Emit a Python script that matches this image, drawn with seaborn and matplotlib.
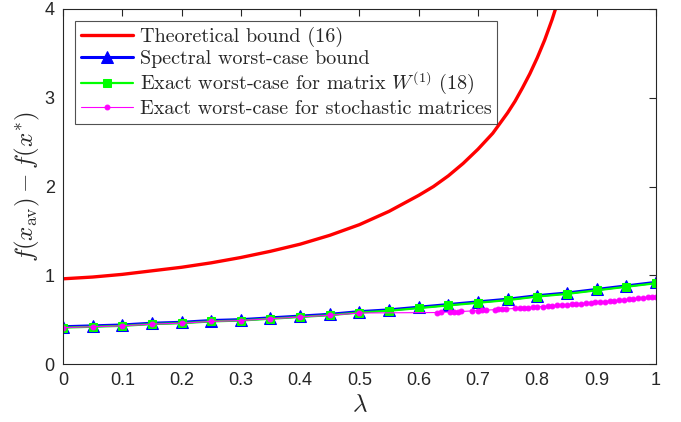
import numpy as np
import pandas as pd
import matplotlib
matplotlib.use("Agg")
import matplotlib.pyplot as plt
import seaborn as sns

# %% Data
lam_bound = [0.0, 0.05, 0.1, 0.15, 0.2, 0.25, 0.3, 0.35, 0.4, 0.45, 0.5,
             0.55, 0.6, 0.625, 0.65, 0.675, 0.7, 0.725, 0.75, 0.7625, 0.775,
             0.7875, 0.8, 0.8125, 0.825, 0.85]
theory_bound = [0.96, 0.98, 1.01, 1.05, 1.09, 1.14, 1.20, 1.27, 1.35, 1.45, 1.57,
                1.72, 1.90, 2.00, 2.12, 2.26, 2.42, 2.60, 2.83, 2.96, 3.11,
                3.27, 3.45, 3.65, 3.88, 4.40]

lam_grid = [0.0, 0.05, 0.1, 0.15, 0.2, 0.25, 0.3, 0.35, 0.4, 0.45, 0.5,
            0.55, 0.6, 0.65, 0.7, 0.75, 0.8, 0.85, 0.9, 0.95, 1.0]
spectral = [0.42, 0.43, 0.44, 0.46, 0.47, 0.49, 0.50, 0.52, 0.54, 0.56, 0.59,
            0.61, 0.64, 0.67, 0.70, 0.73, 0.77, 0.80, 0.84, 0.88, 0.92]
exact_w1 = [0.41, 0.42, 0.43, 0.45, 0.46, 0.48, 0.49, 0.51, 0.53, 0.55, 0.58,
            0.60, 0.63, 0.66, 0.69, 0.72, 0.76, 0.79, 0.83, 0.87, 0.91]

lam_stoch = [0.0, 0.05, 0.1, 0.15, 0.2, 0.25, 0.3, 0.35, 0.4, 0.45, 0.5,
             0.631, 0.638, 0.652, 0.659, 0.666, 0.672, 0.690, 0.700, 0.706,
             0.713, 0.728, 0.734, 0.741, 0.748, 0.762, 0.771, 0.778, 0.785,
             0.793, 0.800, 0.810, 0.818, 0.825, 0.834, 0.842, 0.850, 0.858,
             0.866, 0.874, 0.882, 0.890, 0.898, 0.906, 0.914, 0.922, 0.930,
             0.938, 0.946, 0.954, 0.962, 0.970, 0.978, 0.986, 0.994, 1.000]
exact_stoch = [0.41, 0.42, 0.43, 0.45, 0.46, 0.48, 0.49, 0.51, 0.53, 0.55, 0.575,
               0.580, 0.582, 0.586, 0.588, 0.590, 0.592, 0.598, 0.602, 0.604,
               0.607, 0.612, 0.615, 0.617, 0.620, 0.626, 0.630, 0.633, 0.636,
               0.640, 0.643, 0.648, 0.652, 0.655, 0.660, 0.664, 0.668, 0.672,
               0.677, 0.681, 0.685, 0.690, 0.695, 0.699, 0.704, 0.709, 0.714,
               0.719, 0.724, 0.729, 0.734, 0.739, 0.745, 0.750, 0.756, 0.760]

x_ticks = [0, 0.1, 0.2, 0.3, 0.4, 0.5, 0.6, 0.7, 0.8, 0.9, 1]
x_tick_labels = ["0", "0.1", "0.2", "0.3", "0.4", "0.5", "0.6", "0.7", "0.8", "0.9", "1"]
y_ticks = [0, 1, 2, 3, 4]

labels = ["Theoretical bound (16)",
          "Spectral worst-case bound",
          r"Exact worst-case for matrix $W^{(1)}$ (18)",
          "Exact worst-case for stochastic matrices"]

# %% Style
sns.set_style("white")
plt.rcParams["mathtext.fontset"] = "cm"
plt.rcParams["font.family"] = ["Liberation Sans", "DejaVu Sans"]
plt.rcParams["xtick.direction"] = "in"
plt.rcParams["ytick.direction"] = "in"

fig = plt.figure(figsize=(6.81, 4.22), dpi=100)
ax = fig.add_axes([0.0925, 0.1374, 0.8705, 0.8413])

# %% Plot
sns.lineplot(x=lam_bound, y=theory_bound, color="#ff0000", lw=2.4,
             label=labels[0], ax=ax)
sns.lineplot(x=lam_grid, y=spectral, color="#0000ff", lw=2.2, marker="^",
             markersize=8, markeredgecolor="#0000ff", label=labels[1], ax=ax)
sns.lineplot(x=lam_grid, y=exact_w1, color="#00ff00", lw=1.6, marker="s",
             markersize=6, markeredgecolor="#00ff00", label=labels[2], ax=ax)
sns.lineplot(x=lam_stoch, y=exact_stoch, color="#ff00ff", lw=0.8, marker="o",
             markersize=3.5, markeredgecolor="#ff00ff", label=labels[3], ax=ax)

ax.set_xlim(0, 1)
ax.set_ylim(0, 4)
ax.set_xticks(x_ticks)
ax.set_xticklabels(x_tick_labels)
ax.set_yticks(y_ticks)
ax.tick_params(labelsize=13, colors="#262626", length=5, width=0.8,
               top=True, right=True, pad=6)
for s in ax.spines.values():
    s.set_color("#262626")
    s.set_linewidth(0.8)

ax.set_xlabel(r"$\lambda$", fontsize=18, labelpad=2)
ax.set_ylabel(r"$f(x_{\mathrm{av}})-f(x^{*})$", fontsize=18, labelpad=2)

leg = ax.legend(loc="upper left", prop={"family": "cmr10", "size": 14.5},
                handlelength=2.6, handletextpad=0.3, borderpad=0.3,
                labelspacing=0.12, borderaxespad=0.6, frameon=True,
                fancybox=False)
leg.get_frame().set_edgecolor("#262626")
leg.get_frame().set_linewidth(0.8)

fig.savefig("out.png", dpi=100)
